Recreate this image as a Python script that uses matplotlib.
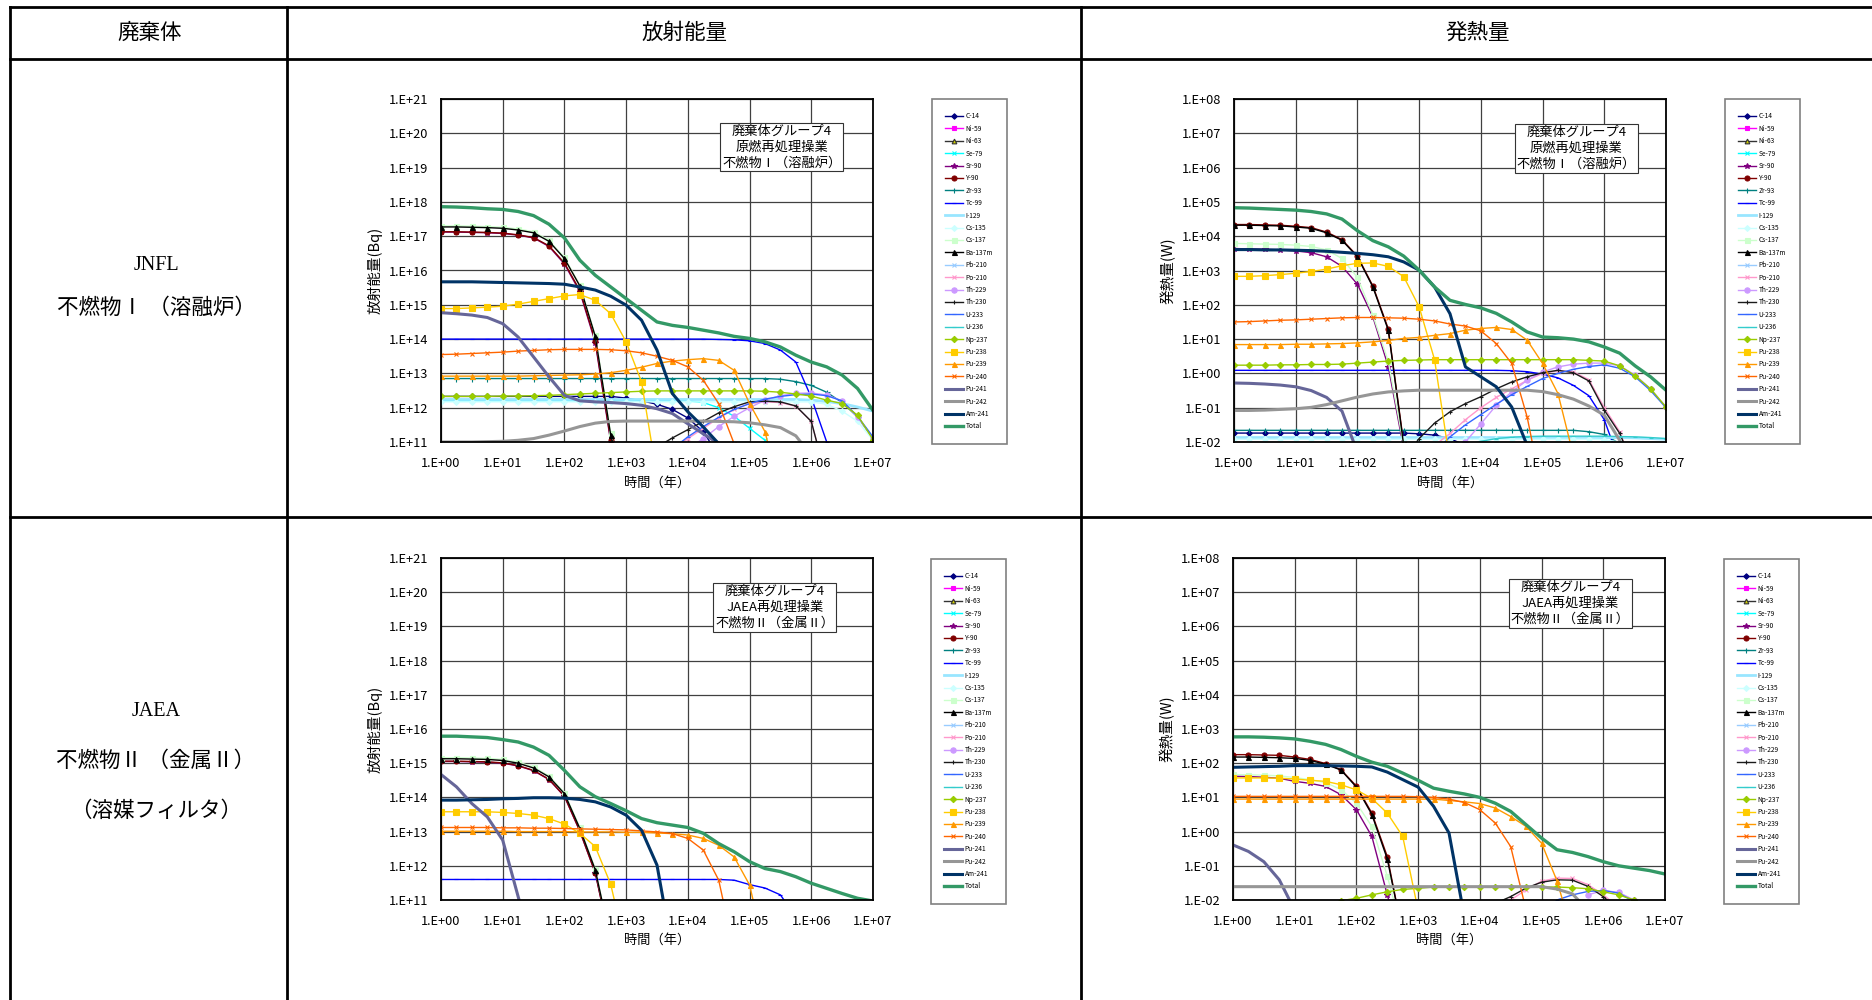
import numpy as np
import matplotlib
matplotlib.use("Agg")
import matplotlib.pyplot as plt
from matplotlib.lines import Line2D
from matplotlib.ticker import FixedLocator, FuncFormatter, NullLocator

plt.rcParams["font.family"] = ["Noto Sans CJK JP", "DejaVu Sans"]

W, H = 1872, 1000

# time axis (years), quarter-decade steps
YEARS = [1, 1.778, 3.162, 5.623, 10, 17.78, 31.62, 56.23, 100, 177.8, 316.2, 562.3,
         1000, 1778, 3162, 5623, 1e4, 1.778e4, 3.162e4, 5.623e4, 1e5, 1.778e5,
         3.162e5, 5.623e5, 1e6, 1.778e6, 3.162e6, 5.623e6, 1e7]

NUCLIDES = ["C-14", "Ni-59", "Ni-63", "Se-79", "Sr-90", "Y-90", "Zr-93", "Tc-99", "I-129",
            "Cs-135", "Cs-137", "Ba-137m", "Pb-210", "Po-210", "Th-229", "Th-230", "U-233",
            "U-236", "Np-237", "Pu-238", "Pu-239", "Pu-240", "Pu-241", "Pu-242", "Am-241", "Total"]

# values are log10 of the quantity (None = not shown)
# --- JNFL, activity (Bq)
jb_total = [17.86, 17.85, 17.83, 17.80, 17.78, 17.72, 17.60, 17.35, 16.95, 16.30, 15.86, 15.52, 15.18, 14.84,
            14.50, 14.40, 14.34, 14.26, 14.18, 14.08, 14.02, 13.92, 13.77, 13.53, 13.33, 13.19, 12.95, 12.56, 11.92]
jb_ba137m = [17.27, 17.27, 17.26, 17.25, 17.23, 17.18, 17.10, 16.85, 16.35, 15.55, 14.08, 11.20, 9.50]
jb_cs137 = [17.30, 17.30, 17.29, 17.28, 17.26, 17.21, 17.13, 16.88, 16.38, 15.58, 14.11, 11.25, 9.50]
jb_y90 = [17.13, 17.13, 17.12, 17.11, 17.09, 17.04, 16.96, 16.72, 16.22, 15.42, 13.95, 11.05, 9.40]
jb_sr90 = [17.12, 17.12, 17.11, 17.10, 17.08, 17.03, 16.95, 16.70, 16.19, 15.38, 13.90, 11.00, 9.30]
jb_am241 = [15.67, 15.67, 15.67, 15.66, 15.65, 15.64, 15.63, 15.62, 15.60, 15.52, 15.43, 15.25, 14.99, 14.55,
            13.68, 12.41, 11.88, 11.44, 10.95]
jb_pu241 = [14.77, 14.74, 14.70, 14.63, 14.45, 14.06, 13.48, 12.90, 12.36, 12.20, 12.17, 12.15, 12.12, 12.07,
            11.97, 11.83, 11.53, 11.24, 10.95]
jb_pu238 = [14.89, 14.89, 14.91, 14.93, 14.96, 15.02, 15.10, 15.18, 15.26, 15.30, 15.13, 14.74, 13.92, 12.75, 10.00]
jb_tc99 = [14.00, 14.00, 14.00, 14.00, 14.00, 14.00, 14.00, 14.00, 14.00, 14.00, 14.00, 14.00, 14.00, 14.00,
           14.00, 14.00, 14.00, 14.00, 13.99, 13.98, 13.95, 13.87, 13.68, 13.33, 12.30, 11.00, 9.50]
jb_pu240 = [13.55, 13.56, 13.58, 13.60, 13.62, 13.65, 13.67, 13.69, 13.70, 13.70, 13.70, 13.69, 13.66, 13.60,
            13.50, 13.38, 13.19, 12.80, 12.12, 10.95]
jb_pu239 = [12.92, 12.92, 12.92, 12.92, 12.92, 12.92, 12.93, 12.94, 12.95, 12.96, 12.98, 13.02, 13.09, 13.18,
            13.29, 13.36, 13.40, 13.43, 13.38, 13.09, 12.12, 11.30, 9.50]
jb_zr93 = [12.85, 12.85, 12.85, 12.85, 12.85, 12.85, 12.85, 12.85, 12.85, 12.85, 12.85, 12.85, 12.85, 12.85,
           12.85, 12.85, 12.85, 12.85, 12.85, 12.85, 12.85, 12.85, 12.83, 12.76, 12.65, 12.45, 12.15, 11.73, 11.10]
jb_np237 = [12.33, 12.33, 12.33, 12.33, 12.34, 12.34, 12.35, 12.36, 12.38, 12.40, 12.42, 12.44, 12.46, 12.48,
            12.49, 12.49, 12.49, 12.49, 12.49, 12.49, 12.49, 12.48, 12.45, 12.40, 12.34, 12.22, 12.12, 11.78, 11.07]
jb_c14 = [12.33, 12.33, 12.33, 12.33, 12.33, 12.33, 12.33, 12.33, 12.33, 12.33, 12.33, 12.33, 12.28, 12.20,
          12.10, 11.95, 11.70, 11.30, 10.60]
jb_se79 = [12.20, 12.20, 12.20, 12.20, 12.20, 12.20, 12.20, 12.20, 12.20, 12.20, 12.20, 12.20, 12.20, 12.20,
           12.20, 12.20, 12.20, 12.15, 12.00, 11.75, 11.40, 11.05, 10.50]
jb_i129 = [12.24, 12.24, 12.24, 12.24, 12.24, 12.24, 12.24, 12.24, 12.24, 12.24, 12.24, 12.24, 12.24, 12.24,
           12.24, 12.24, 12.24, 12.24, 12.24, 12.24, 12.24, 12.24, 12.24, 12.24, 12.22, 12.18, 12.12, 12.02, 11.90]
jb_cs135 = [12.17, 12.17, 12.17, 12.17, 12.17, 12.17, 12.17, 12.17, 12.17, 12.17, 12.17, 12.17, 12.17, 12.17,
            12.17, 12.17, 12.17, 12.17, 12.17, 12.17, 12.17, 12.17, 12.17, 12.17, 12.17, 12.10, 11.90, 11.60, 11.05]
jb_th230 = [None, None, None, None, None, None, None, None, None, None, None, None, None, None,
            10.85, 11.12, 11.36, 11.60, 11.85, 12.03, 12.17, 12.19, 12.17, 12.05, 11.60, 9.90]
jb_po210 = [None, None, None, None, None, None, None, None, None, None, None, None, None, None, None,
            10.80, 11.10, 11.40, 11.70, 11.95, 12.12, 12.17, 12.15, 12.04, 11.60, 9.90]
jb_u233 = [None, None, None, None, None, None, None, None, None, None, None, None, None, None, None,
           10.80, 11.15, 11.45, 11.72, 11.95, 12.12, 12.25, 12.33, 12.38, 12.40, 12.35, 12.20, 11.75, 11.15]
jb_th229 = [None, None, None, None, None, None, None, None, None, None, None, None, None, None, None, None,
            10.80, 11.10, 11.45, 11.75, 12.00, 12.22, 12.35, 12.42, 12.43, 12.37, 12.20, 11.72, 11.12]
jb_pu242 = [11.00, 11.00, 11.00, 11.01, 11.02, 11.05, 11.10, 11.20, 11.32, 11.45, 11.55, 11.60, 11.61, 11.61,
            11.61, 11.61, 11.61, 11.61, 11.60, 11.59, 11.56, 11.50, 11.42, 11.18, 10.60]

# --- JNFL, heat (W)
jw_total = [4.83, 4.82, 4.80, 4.78, 4.76, 4.72, 4.65, 4.50, 4.16, 3.87, 3.69, 3.42, 3.01, 2.52,
            2.13, 2.01, 1.91, 1.75, 1.50, 1.21, 1.06, 1.04, 1.00, 0.92, 0.77, 0.59, 0.22, -0.10, -0.49]
jw_y90 = [4.34, 4.34, 4.33, 4.32, 4.29, 4.25, 4.12, 3.90, 3.42, 2.55, 1.30, -2.05, -3.50]
jw_ba137m = [4.32, 4.32, 4.31, 4.30, 4.27, 4.23, 4.10, 3.88, 3.40, 2.52, 1.26, -2.10, -3.50]
jw_cs137 = [3.79, 3.78, 3.77, 3.76, 3.74, 3.70, 3.60, 3.35, 2.80, 1.70, 0.35, -2.10, -3.50]
jw_sr90 = [3.64, 3.63, 3.62, 3.60, 3.57, 3.52, 3.40, 3.12, 2.60, 1.65, 0.20, -2.20, -3.50]
jw_am241 = [3.61, 3.61, 3.60, 3.60, 3.59, 3.58, 3.56, 3.53, 3.50, 3.46, 3.40, 3.25, 3.01, 2.52,
            1.74, 0.19, -0.10, -0.39, -0.98, -2.10]
jw_pu238 = [2.83, 2.83, 2.85, 2.88, 2.92, 2.97, 3.04, 3.14, 3.21, 3.22, 3.12, 2.82, 1.94, 0.40, -2.60]
jw_pu240 = [1.50, 1.51, 1.53, 1.55, 1.56, 1.58, 1.60, 1.62, 1.63, 1.63, 1.62, 1.61, 1.58, 1.53,
            1.44, 1.38, 1.24, 0.87, 0.29, -1.27, -3.50]
jw_pu239 = [0.84, 0.84, 0.84, 0.84, 0.85, 0.85, 0.86, 0.87, 0.89, 0.92, 0.96, 1.02, 1.05, 1.11,
            1.16, 1.26, 1.31, 1.34, 1.28, 0.97, 0.29, -0.59, -2.40]
jw_np237 = [0.24, 0.24, 0.24, 0.25, 0.25, 0.26, 0.26, 0.27, 0.30, 0.33, 0.36, 0.38, 0.39, 0.40,
            0.40, 0.40, 0.40, 0.40, 0.40, 0.40, 0.40, 0.40, 0.40, 0.38, 0.36, 0.22, -0.07, -0.45, -0.98]
jw_tc99 = [0.09, 0.09, 0.09, 0.09, 0.09, 0.09, 0.09, 0.09, 0.09, 0.09, 0.09, 0.09, 0.09, 0.09,
           0.09, 0.09, 0.09, 0.09, 0.08, 0.05, -0.02, -0.13, -0.35, -0.65, -1.35, -2.60]
jw_pu241 = [-0.28, -0.29, -0.31, -0.34, -0.39, -0.50, -0.70, -1.10, -2.30]
jw_pu242 = [-1.08, -1.08, -1.07, -1.05, -1.03, -0.99, -0.91, -0.80, -0.69, -0.60, -0.54, -0.51, -0.49, -0.49,
            -0.49, -0.49, -0.49, -0.49, -0.49, -0.49, -0.53, -0.62, -0.75, -0.95, -1.22, -1.95, -3.00]
jw_th230 = [None, None, None, None, None, None, None, None, None, None, None,
            -2.50, -1.90, -1.45, -1.12, -0.88, -0.68, -0.45, -0.25, -0.10, 0.02, 0.09, 0.02, -0.22, -1.07, -1.75, -2.80]
jw_po210 = [None, None, None, None, None, None, None, None, None, None, None, None, None,
            -2.10, -1.75, -1.35, -1.00, -0.70, -0.45, -0.20, 0.00, 0.08, 0.04, -0.18, -1.00, -1.70, -2.90]
jw_th229 = [None, None, None, None, None, None, None, None, None, None, None, None, None, None,
            -2.60, -2.00, -1.47, -0.93, -0.54, -0.20, 0.04, 0.19, 0.27, 0.30, 0.30, 0.22, -0.05, -0.45, -0.98]
jw_u233 = [None, None, None, None, None, None, None, None, None, None, None, None, None,
           -2.30, -1.85, -1.50, -1.20, -0.90, -0.62, -0.38, -0.15, 0.00, 0.12, 0.20, 0.25, 0.15, -0.10, -0.50, -1.00]
jw_zr93 = [-1.66, -1.66, -1.66, -1.66, -1.66, -1.66, -1.66, -1.66, -1.66, -1.66, -1.66, -1.66, -1.66, -1.66,
           -1.66, -1.66, -1.66, -1.66, -1.66, -1.66, -1.66, -1.66, -1.66, -1.70, -1.78, -2.05]
jw_c14 = [-1.74, -1.74, -1.74, -1.74, -1.74, -1.74, -1.74, -1.74, -1.74, -1.74, -1.74, -1.74,
          -1.76, -1.80, -1.90, -2.10]
jw_i129 = [-1.87, -1.87, -1.87, -1.87, -1.87, -1.87, -1.87, -1.87, -1.87, -1.87, -1.87, -1.87, -1.87, -1.87,
           -1.87, -1.87, -1.87, -1.87, -1.87, -1.87, -1.87, -1.87, -1.87, -1.87, -1.87, -1.87, -1.88, -1.90, -1.92]
jw_cs135 = [-1.92, -1.92, -1.92, -1.92, -1.92, -1.92, -1.92, -1.92, -1.92, -1.92, -1.92, -1.92, -1.92, -1.92,
            -1.92, -1.92, -1.92, -1.92, -1.92, -1.92, -1.92, -1.92, -1.92, -1.92, -1.93, -2.00]
jw_u236 = [None, None, None, None, None, None, None, None, None, None, None, None, None, None, None,
           -2.10, -1.98, -1.90, -1.86, -1.84, -1.83, -1.83, -1.83, -1.83, -1.83, -1.84, -1.85, -1.87, -1.90]

# --- JAEA, activity (Bq)
ab_total = [15.79, 15.79, 15.77, 15.75, 15.69, 15.62, 15.47, 15.23, 14.79, 14.31, 14.02, 13.82, 13.61, 13.38,
            13.26, 13.19, 13.12, 12.95, 12.65, 12.41, 12.12, 11.92, 11.83, 11.68, 11.49, 11.34, 11.19, 11.05, 10.97]
ab_cs137 = [15.16, 15.16, 15.15, 15.14, 15.11, 15.03, 14.89, 14.63, 14.14, 13.12, 11.91, 9.80]
ab_ba137m = [15.13, 15.13, 15.12, 15.11, 15.08, 15.00, 14.86, 14.60, 14.11, 13.09, 11.88, 9.80]
ab_sr90 = [15.05, 15.05, 15.04, 15.03, 15.00, 14.92, 14.78, 14.52, 14.03, 13.01, 11.79, 9.70]
ab_y90 = [15.06, 15.06, 15.05, 15.04, 15.01, 14.93, 14.79, 14.53, 14.04, 13.02, 11.80, 9.70]
ab_am241 = [13.92, 13.92, 13.93, 13.94, 13.96, 13.97, 13.99, 13.99, 13.98, 13.94, 13.87, 13.72, 13.48, 13.04,
            12.02, 9.50]
ab_pu241 = [14.67, 14.31, 13.82, 13.43, 12.75, 11.10, 9.50]
ab_pu238 = [13.58, 13.58, 13.58, 13.58, 13.56, 13.53, 13.48, 13.38, 13.22, 12.95, 12.56, 11.46, 9.50]
ab_pu240 = [13.12, 13.12, 13.12, 13.12, 13.11, 13.11, 13.10, 13.10, 13.09, 13.08, 13.07, 13.06, 13.05, 13.02,
            12.99, 12.94, 12.80, 12.46, 11.58, 9.50]
ab_pu239 = [13.01, 13.01, 13.01, 13.01, 13.01, 13.00, 13.00, 13.00, 13.00, 12.99, 12.99, 12.99, 12.98, 12.98,
            12.96, 12.94, 12.90, 12.80, 12.60, 12.26, 11.44, 9.50]
ab_tc99 = [11.60, 11.60, 11.60, 11.60, 11.60, 11.60, 11.60, 11.60, 11.60, 11.60, 11.60, 11.60, 11.60, 11.60,
           11.60, 11.60, 11.60, 11.60, 11.60, 11.58, 11.45, 11.35, 11.15, 10.50]

# --- JAEA, heat (W)
aw_total = [2.77, 2.77, 2.76, 2.74, 2.71, 2.64, 2.55, 2.40, 2.20, 2.03, 1.91, 1.71, 1.50, 1.27,
            1.18, 1.10, 1.00, 0.83, 0.59, 0.20, -0.19, -0.53, -0.61, -0.73, -0.88, -1.00, -1.07, -1.14, -1.24]
aw_y90 = [2.25, 2.25, 2.24, 2.23, 2.18, 2.11, 1.99, 1.81, 1.33, 0.54, -0.73, -3.00]
aw_ba137m = [2.18, 2.18, 2.17, 2.16, 2.14, 2.08, 1.97, 1.80, 1.30, 0.50, -0.80, -3.00]
aw_am241 = [1.88, 1.89, 1.90, 1.91, 1.93, 1.93, 1.93, 1.92, 1.91, 1.89, 1.74, 1.52, 1.30, 0.74, -0.04, -2.50]
aw_cs137 = [1.67, 1.66, 1.65, 1.63, 1.58, 1.52, 1.43, 1.23, 0.83, 0.15, -1.30, -3.00]
aw_sr90 = [1.62, 1.61, 1.59, 1.56, 1.47, 1.41, 1.32, 1.08, 0.64, -0.14, -1.85, -3.50]
aw_pu238 = [1.57, 1.57, 1.57, 1.56, 1.54, 1.50, 1.47, 1.37, 1.22, 0.97, 0.54, -0.14, -2.30]
aw_pu240 = [1.03, 1.03, 1.03, 1.03, 1.03, 1.03, 1.03, 1.03, 1.03, 1.03, 1.03, 1.03, 1.02, 1.00,
            0.95, 0.85, 0.64, 0.25, -0.44, -2.30]
aw_pu239 = [0.95, 0.95, 0.95, 0.95, 0.95, 0.95, 0.95, 0.95, 0.95, 0.95, 0.95, 0.95, 0.95, 0.95,
            0.91, 0.87, 0.82, 0.69, 0.44, 0.15, -0.34, -1.44, -3.00]
aw_pu241 = [-0.39, -0.58, -0.88, -1.41, -2.30]
aw_pu242 = [-1.61, -1.61, -1.61, -1.61, -1.61, -1.61, -1.61, -1.61, -1.61, -1.61, -1.61, -1.61, -1.61, -1.61,
            -1.61, -1.61, -1.61, -1.61, -1.61, -1.61, -1.61, -1.68, -1.82, -2.30]
aw_np237 = [None, None, None, None, None, None, None, -2.02, -1.95, -1.85, -1.76, -1.69, -1.66, -1.62,
            -1.62, -1.62, -1.62, -1.62, -1.62, -1.62, -1.62, -1.62, -1.64, -1.67, -1.76, -1.85, -2.00]
aw_th230 = [None, None, None, None, None, None, None, None, None, None, None, None, None, None, None, None, None,
            -2.10, -1.90, -1.65, -1.48, -1.41, -1.42, -1.60, -1.90, -2.30]
aw_po210 = [None, None, None, None, None, None, None, None, None, None, None, None, None, None, None, None, None,
            None, -2.00, -1.70, -1.45, -1.36, -1.37, -1.55, -1.85, -2.20]
aw_u233 = [None, None, None, None, None, None, None, None, None, None, None, None, None, None, None, None, None,
           None, None, None, None, -2.00, -1.85, -1.75, -1.72, -1.80, -2.05]
aw_th229 = [None, None, None, None, None, None, None, None, None, None, None, None, None, None, None, None, None,
            None, None, None, None, None, None, -1.85, -1.72, -1.78, -2.00]

PANEL_JB = {"C-14": jb_c14, "Se-79": jb_se79, "Sr-90": jb_sr90, "Y-90": jb_y90, "Zr-93": jb_zr93,
            "Tc-99": jb_tc99, "I-129": jb_i129, "Cs-135": jb_cs135, "Cs-137": jb_cs137, "Ba-137m": jb_ba137m,
            "Po-210": jb_po210, "Th-229": jb_th229, "Th-230": jb_th230, "U-233": jb_u233, "Np-237": jb_np237,
            "Pu-238": jb_pu238, "Pu-239": jb_pu239, "Pu-240": jb_pu240, "Pu-241": jb_pu241, "Pu-242": jb_pu242,
            "Am-241": jb_am241, "Total": jb_total}
PANEL_JW = {"C-14": jw_c14, "Sr-90": jw_sr90, "Y-90": jw_y90, "Zr-93": jw_zr93, "Tc-99": jw_tc99,
            "I-129": jw_i129, "Cs-135": jw_cs135, "Cs-137": jw_cs137, "Ba-137m": jw_ba137m, "Po-210": jw_po210,
            "Th-229": jw_th229, "Th-230": jw_th230, "U-233": jw_u233, "U-236": jw_u236, "Np-237": jw_np237,
            "Pu-238": jw_pu238, "Pu-239": jw_pu239, "Pu-240": jw_pu240, "Pu-241": jw_pu241, "Pu-242": jw_pu242,
            "Am-241": jw_am241, "Total": jw_total}
PANEL_AB = {"Sr-90": ab_sr90, "Y-90": ab_y90, "Tc-99": ab_tc99, "Cs-137": ab_cs137, "Ba-137m": ab_ba137m,
            "Pu-238": ab_pu238, "Pu-239": ab_pu239, "Pu-240": ab_pu240, "Pu-241": ab_pu241,
            "Am-241": ab_am241, "Total": ab_total}
PANEL_AW = {"Sr-90": aw_sr90, "Y-90": aw_y90, "Cs-137": aw_cs137, "Ba-137m": aw_ba137m, "Po-210": aw_po210,
            "Th-229": aw_th229, "Th-230": aw_th230, "U-233": aw_u233, "Np-237": aw_np237,
            "Pu-238": aw_pu238, "Pu-239": aw_pu239, "Pu-240": aw_pu240, "Pu-241": aw_pu241, "Pu-242": aw_pu242,
            "Am-241": aw_am241, "Total": aw_total}

# color, marker, line width, marker size, marker face
STYLE = {
    "C-14": ("#000080", "D", 1.0, 2.8, "#000080"),
    "Ni-59": ("#FF00FF", "s", 1.0, 3.4, "#FF00FF"),
    "Ni-63": ("#333333", "^", 1.0, 3.4, "#CCCC00"),
    "Se-79": ("#00FFFF", "x", 1.0, 3.2, "#00FFFF"),
    "Sr-90": ("#800080", "*", 1.0, 3.8, "#800080"),
    "Y-90": ("#800000", "o", 1.0, 3.6, "#800000"),
    "Zr-93": ("#008080", "+", 1.0, 3.6, "#008080"),
    "Tc-99": ("#0000FF", "_", 1.0, 2.8, "#0000FF"),
    "I-129": ("#99E6FF", "None", 2.0, 0, "#99E6FF"),
    "Cs-135": ("#CCFFFF", "D", 1.0, 3.0, "#CCFFFF"),
    "Cs-137": ("#CCFFCC", "s", 1.0, 3.6, "#CCFFCC"),
    "Ba-137m": ("#000000", "^", 1.0, 3.6, "#000000"),
    "Pb-210": ("#99CCFF", "x", 1.0, 3.2, "#99CCFF"),
    "Po-210": ("#FF99CC", "x", 1.0, 3.2, "#FF99CC"),
    "Th-229": ("#CC99FF", "o", 1.0, 3.8, "#CC99FF"),
    "Th-230": ("#1A1A1A", "+", 1.0, 3.2, "#1A1A1A"),
    "U-233": ("#3366FF", "_", 1.0, 2.8, "#3366FF"),
    "U-236": ("#33CCCC", "_", 1.0, 2.8, "#33CCCC"),
    "Np-237": ("#99CC00", "D", 1.0, 3.2, "#99CC00"),
    "Pu-238": ("#FFCC00", "s", 1.0, 3.8, "#FFCC00"),
    "Pu-239": ("#FF9900", "^", 1.0, 3.6, "#FF9900"),
    "Pu-240": ("#FF6600", "x", 1.0, 3.2, "#FF6600"),
    "Pu-241": ("#666699", "None", 2.2, 0, "#666699"),
    "Pu-242": ("#969696", "None", 2.2, 0, "#969696"),
    "Am-241": ("#003366", "None", 2.2, 0, "#003366"),
    "Total": ("#339966", "None", 2.4, 0, "#339966"),
}


def px(x, y):
    return x / W, 1 - y / H


def exp_label(v, pos):
    return "1.E%+03d" % int(round(np.log10(v)))


def draw_panel(fig, box, panel, yrange, ylabel, note, note_xy, legend_at):
    left, top, right, bottom = box
    ax = fig.add_axes([left / W, 1 - bottom / H, (right - left) / W, (bottom - top) / H])
    handles = []
    for name in NUCLIDES:
        color, marker, lw, ms, mfc = STYLE[name]
        y = np.full(len(YEARS), np.nan)
        vals = panel.get(name)
        if vals is not None:
            v = np.array(vals, dtype=float)[:len(YEARS)]
            y[:len(v)] = 10.0 ** v
        line, = ax.plot(YEARS, y, color=color, lw=lw, marker=marker, ms=ms,
                        mfc=mfc, mec=color, mew=0.8, label=name)
        handles.append(line)

    ax.set_xscale("log")
    ax.set_yscale("log")
    ax.set_xlim(1, 1e7)
    ax.set_ylim(10.0 ** yrange[0], 10.0 ** yrange[1])
    ax.xaxis.set_major_locator(FixedLocator([10.0 ** k for k in range(0, 8)]))
    ax.yaxis.set_major_locator(FixedLocator([10.0 ** k for k in range(yrange[0], yrange[1] + 1)]))
    ax.xaxis.set_minor_locator(NullLocator())
    ax.yaxis.set_minor_locator(NullLocator())
    ax.xaxis.set_major_formatter(FuncFormatter(exp_label))
    ax.yaxis.set_major_formatter(FuncFormatter(exp_label))
    ax.tick_params(length=0, labelsize=9.2)
    ax.tick_params(axis="x", pad=11)
    ax.tick_params(axis="y", pad=9)
    ax.grid(True, color="#404040", lw=0.9)
    ax.set_axisbelow(True)
    for s in ax.spines.values():
        s.set_linewidth(1.3)

    ax.set_ylabel(ylabel, fontsize=10.5)
    ax.yaxis.set_label_coords(-0.135, 0.5)
    ax.set_xlabel("時間（年）", fontsize=9.5)
    ax.xaxis.set_label_coords(0.5, -0.10)

    ax.text(note_xy[0], note_xy[1], note, transform=ax.transAxes, ha="center", va="center",
            fontsize=9.5, linespacing=1.3, zorder=6,
            bbox=dict(boxstyle="square,pad=0.15", fc="white", ec="#333333", lw=0.8))

    lx, ly = px(*legend_at)
    leg = fig.legend(handles, NUCLIDES, loc="upper left", bbox_to_anchor=(lx, ly),
                     prop={"size": 4.8}, frameon=True, fancybox=False, edgecolor="#808080",
                     framealpha=1, borderpad=2.0, labelspacing=0.66, handlelength=2.6,
                     handletextpad=0.45, borderaxespad=0)
    leg.get_frame().set_linewidth(1.2)
    return ax


fig = plt.figure(figsize=(W / 100, H / 100), dpi=100)

note_jnfl = "廃棄体グループ4\n原燃再処理操業\n不燃物Ⅰ（溶融炉）"
note_jaea = "廃棄体グループ4\nJAEA再処理操業\n不燃物Ⅱ（金属Ⅱ）"

draw_panel(fig, (441, 99, 873, 442), PANEL_JB, (11, 21), "放射能量(Bq)", note_jnfl, (0.789, 0.86), (932, 99))
draw_panel(fig, (1234, 99, 1666, 442), PANEL_JW, (-2, 8), "発熱量(W)", note_jnfl, (0.792, 0.857), (1725, 99))
draw_panel(fig, (441, 558, 873, 900), PANEL_AB, (11, 21), "放射能量(Bq)", note_jaea, (0.773, 0.856), (931, 559))
draw_panel(fig, (1233, 558, 1665, 900), PANEL_AW, (-2, 8), "発熱量(W)", note_jaea, (0.781, 0.868), (1724, 559))

# table frame
for (x0, y0, x1, y1) in [(10, 7, W, 7), (10, 59, W, 59), (10, 517, W, 517),
                         (10, 7, 10, H), (287, 7, 287, H), (1081, 7, 1081, H)]:
    a, b = px(x0, y0)
    c, d = px(x1, y1)
    fig.add_artist(Line2D([a, c], [b, d], transform=fig.transFigure, color="black", lw=2.0))

fig.text(*px(150, 33), "廃棄体", ha="center", va="center", fontsize=15.5)
fig.text(*px(684, 33), "放射能量", ha="center", va="center", fontsize=15.5)
fig.text(*px(1478, 33), "発熱量", ha="center", va="center", fontsize=15.5)

row_font = ["Liberation Serif", "Noto Sans CJK JP"]
fig.text(*px(156, 265), "JNFL", ha="center", va="center", fontsize=14.5, family=row_font)
fig.text(*px(156, 309), "不燃物Ⅰ （溶融炉）", ha="center", va="center", fontsize=15.5, family=row_font)
fig.text(*px(156, 711), "JAEA", ha="center", va="center", fontsize=14.5, family=row_font)
fig.text(*px(156, 762), "不燃物Ⅱ （金属Ⅱ）", ha="center", va="center", fontsize=15.5, family=row_font)
fig.text(*px(156, 812), "（溶媒フィルタ）", ha="center", va="center", fontsize=15.5, family=row_font)

fig.savefig("out.png", dpi=100)
